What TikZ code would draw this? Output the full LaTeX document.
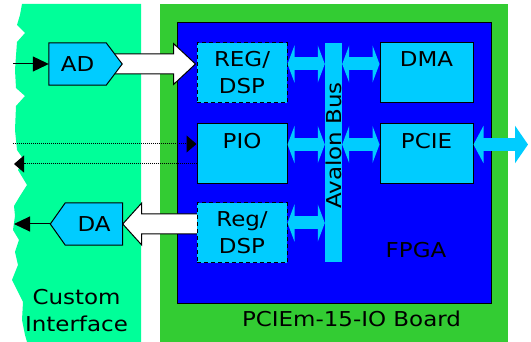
\documentclass[tikz,border=0pt]{standalone}
\usepackage{fontspec}
\setmainfont[FakeStretch=1.12]{DejaVu Sans}
\usepackage{tikz}
\usetikzlibrary{positioning,arrows.meta,calc}
\usepackage{xcolor}
\definecolor{mint}{HTML}{00FF99}
\definecolor{boardgreen}{HTML}{33CC33}
\definecolor{fpgablue}{HTML}{0000FF}
\definecolor{blockcyan}{HTML}{00CCFF}
\pgfdeclarelayer{back}
\pgfsetlayers{back,main}
\tikzset{
  block/.style={draw,line width=1pt,fill=blockcyan,align=center,minimum width=90pt,minimum height=60pt,inner sep=0pt},
  regblock/.style={block,dash pattern=on 4pt off 3pt},
  convnode/.style={minimum width=57pt,minimum height=42pt,inner sep=0pt},
  convshape/.style={draw,line width=1pt,fill=blockcyan,line join=miter},
  fatarrow/.style={draw,line width=1pt,fill=white,line join=miter},
  busarrow/.style={blockcyan,line width=13pt,{Triangle[length=7pt,width=37pt]}-{Triangle[length=7pt,width=37pt]}},
  sigline/.style={line width=1pt,-{Triangle[length=16pt,width=15pt]}},
  dotline/.style={line width=1pt,dash pattern=on 1pt off 1pt,-{Triangle[length=10pt,width=17pt]}},
  txt/.style={inner sep=0pt,align=center}
}
\begin{document}
\begin{tikzpicture}[x=1pt,y=-1pt,font=\fontsize{20.5}{27}\selectfont]
      \useasboundingbox (0,0) rectangle (531,342);
      \begin{pgfonlayer}{back}
      % custom interface side
      \fill[mint] (141,4) -- (22,4) -- (20,15) -- (17,25) -- (25,33) -- (17,42) -- (15,70) -- (16,88)
        -- (25,96) -- (16,106) -- (15,130) -- (17,150) -- (24,160) -- (18,170) -- (27,185) -- (20,196)
        -- (14,206) -- (15,216) -- (13,230) -- (19,240) -- (15,252) -- (18,265) -- (12,280) -- (18,292)
        -- (23,302) -- (22,320) -- (25,335) -- (27,342) -- (141,342) -- cycle;
      % board and fpga
      \fill[boardgreen] (160,4) rectangle (508,342);
      \draw[line width=1pt,fill=fpgablue] (177,23) rectangle (491,304);
      \end{pgfonlayer}
      \node[regblock] (regin) at (242,73) {REG/\\DSP};
      \node[block] (pio) at (242,154) {PIO\\\phantom{P}};
      \node[regblock] (regout) at (242,233) {Reg/\\DSP};
      \node[block,minimum width=93pt] (dma) at (426.5,73) {DMA\\\phantom{D}};
      \node[block,minimum width=93pt] (pcie) at (426.5,154) {PCIE\\\phantom{P}};
      \node[fill=blockcyan,minimum width=17pt,minimum height=219pt,inner sep=0pt] (bus) at (333.5,152.5) {};
      \node[txt,rotate=90] (buslabel) at ($(bus.center)+(0,-7)$) {Avalon Bus};
      \node[convnode] (ad) at (77.5,64) {AD};
      \node[convnode] (da) at (94,224) {DA};
      \node[txt] (fpgalabel) at (416,250) {FPGA};
      \node[txt] (boardlabel) at (351.5,318.5) {PCIEm-15-IO Board};
      \node[txt] (customlabel) at (76.5,311) {Custom\\Interface};
      \coordinate (intip) at ($(ad.east -| regin.west)+(-1,0)$);
      \coordinate (outend) at ($(da.east -| regout.west)+(3,0)$);
      \begin{pgfonlayer}{back}
      % wide data arrows
      \draw[fatarrow] ($(ad.east)+(0,-10)$) -- ($(intip)+(-22,-10)$) -- ($(intip)+(-22,-20.5)$) -- (intip)
        -- ($(intip)+(-22,20.5)$) -- ($(intip)+(-22,10)$) -- ($(ad.east)+(0,10)$) -- cycle;
      \draw[fatarrow] (da.east) -- ($(da.east)+(19,-21)$) -- ($(da.east)+(19,-10)$) -- ($(outend)+(0,-10)$)
        -- ($(outend)+(0,10)$) -- ($(da.east)+(19,10)$) -- ($(da.east)+(19,21)$) -- cycle;
      % converters
      \draw[convshape] (ad.north west) -- (ad.north east) -- ($(ad.east)+(16,0)$) -- (ad.south east) -- (ad.south west) -- cycle;
      \draw[convshape] (da.north east) -- (da.north west) -- ($(da.west)+(-15,0)$) -- (da.south west) -- (da.south east) -- cycle;
      \end{pgfonlayer}
      % signals
      \coordinate (adin) at (13,64);
      \coordinate (daout) at (14,224);
      \coordinate (pioin) at (13,144);
      \coordinate (pioout) at (14,164);
      \draw[sigline] (adin) -- (ad.west);
      \draw[sigline] ($(da.west)+(-15,0)$) -- (daout);
      \draw[dotline] (pioin) -- (pioin -| pio.west);
      \draw[dotline] (pioout -| pio.west) -- (pioout);
      % avalon bus links
      \draw[busarrow] ($(regin.east)+(0,-9)$) -- ($(regin.east -| bus.west)+(0,-9)$);
      \draw[busarrow] ($(dma.west -| bus.east)+(0,-9)$) -- ($(dma.west)+(0,-9)$);
      \draw[busarrow] ($(pio.east)+(0,-9.5)$) -- ($(pio.east -| bus.west)+(0,-9.5)$);
      \draw[busarrow] ($(pcie.west -| bus.east)+(0,-9.5)$) -- ($(pcie.west)+(0,-9.5)$);
      \draw[busarrow] ($(regout.east)+(0,-10)$) -- ($(regout.east -| bus.west)+(0,-10)$);
      \coordinate (hostlink) at (528,144.5);
      \draw[busarrow,{Triangle[length=10pt,width=37pt]}-{Triangle[length=13pt,width=37pt]}] ($(pcie.east)+(0,-9.5)$) -- (hostlink);
    \end{tikzpicture}
\end{document}
